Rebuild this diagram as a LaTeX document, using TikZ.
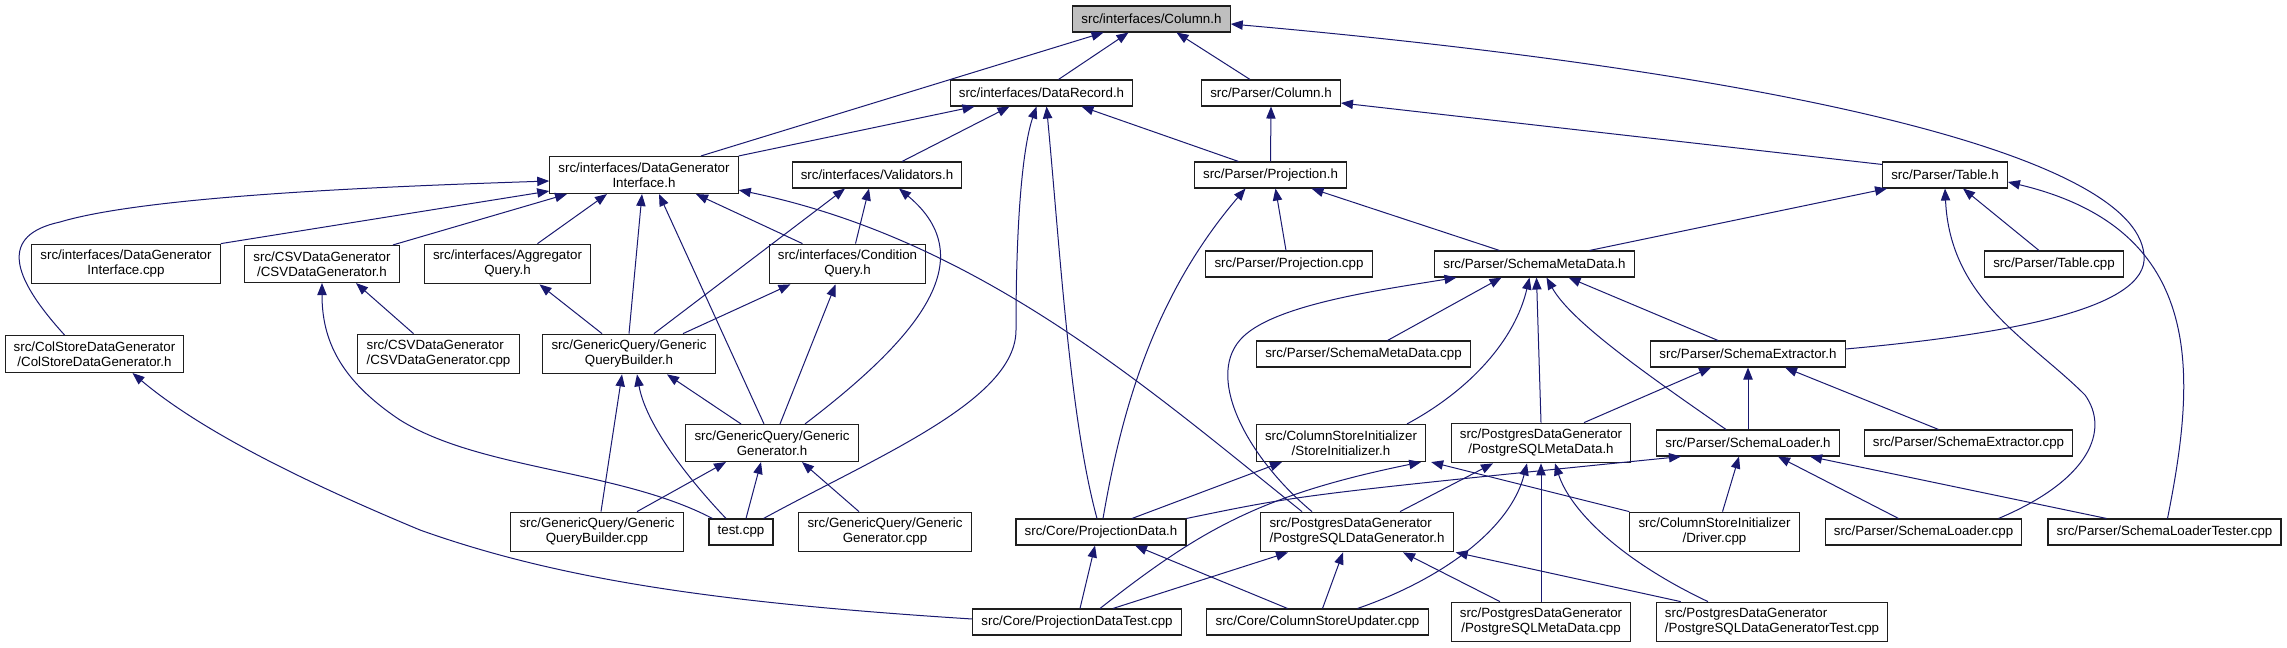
\documentclass[tikz,border=0pt]{standalone}
\usepackage{fontspec}
\setsansfont{Liberation Sans}
\usetikzlibrary{arrows.meta}

\definecolor{depGraphEdge}{RGB}{25,25,112}
\definecolor{depGraphRoot}{RGB}{191,191,191}
\definecolor{depGraphBorder}{RGB}{30,30,30}

\begin{document}
\begin{tikzpicture}[x=.75pt,y=-.75pt,
      incfile/.style={draw=depGraphBorder, fill=white, line width=.8pt,
        font=\fontsize{10}{11.25}\selectfont\sffamily, align=center,
        inner xsep=6.5pt, inner ysep=4.6pt, minimum height=19.5pt},
      rootfile/.style={incfile, fill=depGraphRoot},
      dep/.style={draw=depGraphEdge, line width=.75pt,
        -{Triangle[length=9pt,width=7pt]}},
      shx/.style={shift={(#1,0)}},
      shy/.style={shift={(0,#1)}}]
      \useasboundingbox (0,0) rectangle (2287,648);
      \fill[white] (0,0) rectangle (2287,648);

      \node[rootfile] (col) at (1151.5,19) {src/interfaces/Column.h};
      \node[incfile] (dr) at (1041.5,93) {src/interfaces/DataRecord.h};
      \node[incfile] (pcol) at (1271,93) {src/Parser/Column.h};
      \node[incfile] (dgi) at (644,175) {src/interfaces/DataGenerator\\Interface.h};
      \node[incfile] (val) at (877,175) {src/interfaces/Validators.h};
      \node[incfile] (proj) at (1270.5,175) {src/Parser/Projection.h};
      \node[incfile] (table) at (1945,175) {src/Parser/Table.h};

      \node[incfile] (dgicpp) at (126,264) {src/interfaces/DataGenerator\\Interface.cpp};
      \node[incfile] (csvh) at (322,264) {src/CSVDataGenerator\\/CSVDataGenerator.h};
      \node[incfile] (agg) at (507.5,264) {src/interfaces/Aggregator\\Query.h};
      \node[incfile] (cond) at (847.5,264) {src/interfaces/Condition\\Query.h};
      \node[incfile] (pcpp) at (1289,264) {src/Parser/Projection.cpp};
      \node[incfile] (smd) at (1534.5,264) {src/Parser/SchemaMetaData.h};
      \node[incfile] (tcpp) at (2054,264) {src/Parser/Table.cpp};

      \node[incfile] (colstore) at (94.5,354) {src/ColStoreDataGenerator\\/ColStoreDataGenerator.h};
      \node[incfile, align=left] (csvcpp) at (438.5,354) {src/CSVDataGenerator\\/CSVDataGenerator.cpp};
      \node[incfile] (gqbh) at (629,354) {src/GenericQuery/Generic\\QueryBuilder.h};
      \node[incfile] (scpp) at (1363.5,354) {src/Parser/SchemaMetaData.cpp};
      \node[incfile] (sext) at (1748,354) {src/Parser/SchemaExtractor.h};

      \node[incfile] (gg) at (772,443) {src/GenericQuery/Generic\\Generator.h};
      \node[incfile] (si) at (1341,443) {src/ColumnStoreInitializer\\/StoreInitializer.h};
      \node[incfile] (pm) at (1541,443) {src/PostgresDataGenerator\\/PostgreSQLMetaData.h};
      \node[incfile] (sl) at (1748,443) {src/Parser/SchemaLoader.h};
      \node[incfile] (secpp) at (1968.5,443) {src/Parser/SchemaExtractor.cpp};

      \node[incfile] (gqbcpp) at (597,532) {src/GenericQuery/Generic\\QueryBuilder.cpp};
      \node[incfile] (test) at (741,532) {test.cpp};
      \node[incfile] (ggcpp) at (885,532) {src/GenericQuery/Generic\\Generator.cpp};
      \node[incfile] (pd) at (1101,532) {src/Core/ProjectionData.h};
      \node[incfile, align=left] (pdg) at (1357,532) {src/PostgresDataGenerator\\/PostgreSQLDataGenerator.h};
      \node[incfile] (driver) at (1714.5,532) {src/ColumnStoreInitializer\\/Driver.cpp};
      \node[incfile] (slcpp) at (1923.5,532) {src/Parser/SchemaLoader.cpp};
      \node[incfile] (slt) at (2164.5,532) {src/Parser/SchemaLoaderTester.cpp};

      \node[incfile] (pdt) at (1077,622) {src/Core/ProjectionDataTest.cpp};
      \node[incfile] (csu) at (1317.5,622) {src/Core/ColumnStoreUpdater.cpp};
      \node[incfile] (pmcpp) at (1541,622) {src/PostgresDataGenerator\\/PostgreSQLMetaData.cpp};
      \node[incfile, align=left] (pdtest) at (1772,622) {src/PostgresDataGenerator\\/PostgreSQLDataGeneratorTest.cpp};

      \draw[dep] ([shx=57]dgi.north) -- ([shx=-48]col.south);
      \draw[dep] ([shx=17]dr.north) -- ([shx=-23]col.south);
      \draw[dep] ([shx=-21]pcol.north) -- ([shx=25]col.south);
      \draw[dep] ([shy=-5]sext.east) .. controls (2000,335) and (2150,310) .. (2144,255)
        .. controls (2135,150) and (1750,70) .. ([shy=5]col.east);
      \draw[dep] (dgi.north east) -- ([shx=-67]dr.south);
      \draw[dep] ([shx=25]val.north) -- ([shx=-32]dr.south);
      \draw[dep] ([shx=-32]proj.north) -- ([shx=40]dr.south);
      \draw[dep] (proj.north) -- (pcol.south);
      \draw[dep] ([shy=3]table.north west) -- ([shy=10]pcol.east);

      \draw[dep] (dgicpp.north east) -- ([shy=-3]dgi.south west);
      \draw[dep] ([shx=-30]colstore.north) .. controls (10,275) and (0,235) .. (60,222)
        .. controls (150,195) and (400,186) .. ([shy=6]dgi.west);
      \draw[dep] ([shx=71]csvh.north) -- ([shx=-77]dgi.south);
      \draw[dep] ([shx=30]agg.north) -- ([shx=-37]dgi.south);
      \draw[dep] ([shx=-45]cond.north) -- ([shx=52]dgi.south);
      \draw[dep] ([shx=8]cond.north) -- ([shx=-8]val.south);
      \draw[dep] ([shx=-3]pcpp.north) -- ([shx=5]proj.south);
      \draw[dep] ([shx=-35]smd.north) -- ([shx=41]proj.south);
      \draw[dep] ([shx=55]smd.north) -- ([shx=-58]table.south);
      \draw[dep] ([shx=-15]tcpp.north) -- ([shx=18]table.south);

      \draw[dep] ([shx=-25]csvcpp.north) -- ([shx=34]csvh.south);
      \draw[dep] (gqbh.north) -- ([shx=-2]dgi.south);
      \draw[dep] ([shx=-27]gqbh.north) -- ([shx=32]agg.south);
      \draw[dep] ([shx=25]gqbh.north) -- ([shx=-32]val.south);
      \draw[dep] ([shx=54]gqbh.north) -- ([shx=-57]cond.south);
      \draw[dep] ([shx=24]scpp.north) -- ([shx=-33]smd.south);
      \draw[dep] ([shx=-30]sext.north) -- ([shx=34]smd.south);

      \draw[dep] ([shx=-8]gg.north) -- ([shx=15]dgi.south);
      \draw[dep] ([shx=33]gg.north) .. controls (915,340) and (985,260) .. ([shx=22]val.south);
      \draw[dep] ([shx=8]gg.north) -- ([shx=-12]cond.south);
      \draw[dep] ([shx=-31]gg.north) -- ([shx=38]gqbh.south);
      \draw[dep] ([shx=66]si.north) .. controls (1470,390) and (1515,340) .. ([shx=-5]smd.south);
      \draw[dep] (pm.north) -- ([shx=2]smd.south);
      \draw[dep] ([shx=43]pm.north) -- ([shx=-37]sext.south);
      \draw[dep] ([shx=-22]sl.north) .. controls (1640,370) and (1570,320) .. ([shx=12]smd.south);
      \draw[dep] (sl.north) -- (sext.south);
      \draw[dep] ([shx=-30]secpp.north) -- ([shx=37]sext.south);

      \draw[dep] ([shx=4]gqbcpp.north) -- ([shx=-7]gqbh.south);
      \draw[dep] ([shx=40]gqbcpp.north) -- ([shx=-46]gg.south);
      \draw[dep] ([shx=-10]test.north east) .. controls (880,455) and (1016,400) .. (1016,330)
        .. controls (1016,200) and (1025,140) .. ([shx=-5]dr.south);
      \draw[dep] ([shx=4]test.north west) .. controls (620,470) and (480,470) .. (400,420)
        .. controls (340,380) and (322,340) .. (csvh.south);
      \draw[dep] ([shx=-15]test.north) .. controls (680,470) and (645,420) .. ([shx=8]gqbh.south);
      \draw[dep] ([shx=5]test.north) -- ([shx=-11]gg.south);
      \draw[dep] ([shx=-26]ggcpp.north) -- ([shx=30]gg.south);
      \draw[dep] ([shx=-4]pd.north) .. controls (1070,420) and (1060,250) .. ([shx=5]dr.south);
      \draw[dep] ([shx=2]pd.north) .. controls (1120,420) and (1150,300) .. ([shx=-25]proj.south);
      \draw[dep] ([shx=31]pd.north) -- ([shx=-59]si.south);
      \draw[dep] (pd.north east) .. controls (1300,495) .. ([shx=-67]sl.south);
      \draw[dep] ([shx=-55]pdg.north) .. controls (1150,390) and (980,240) .. ([shy=-4]dgi.south east);
      \draw[dep] ([shx=-45]pdg.north) .. controls (1250,460) and (1205,380) .. (1240,340)
        .. controls (1270,305) and (1380,290) .. ([shx=-78]smd.south);
      \draw[dep] ([shx=43]pdg.north) -- ([shx=-48]pm.south);
      \draw[dep] (driver.north west) -- ([shx=5]si.south east);
      \draw[dep] ([shx=8]driver.north) -- ([shx=-9]sl.south);
      \draw[dep] ([shx=-25]slcpp.north) -- ([shx=30]sl.south);
      \draw[dep] ([shx=75]slcpp.north) .. controls (2090,480) and (2110,430) .. (2085,395)
        .. controls (2030,340) and (1950,300) .. (table.south);
      \draw[dep] ([shx=-58]slt.north) -- ([shx=62]sl.south);
      \draw[dep] ([shx=3]slt.north) .. controls (2195,380) and (2210,230) .. ([shy=7]table.east);

      \draw[dep] ([shy=-3]pdt.west) .. controls (720,603) and (560,580) .. (420,530)
        .. controls (300,480) and (200,430) .. ([shx=38]colstore.south);
      \draw[dep] ([shx=3]pdt.north) -- ([shx=-6]pd.south);
      \draw[dep] ([shx=36]pdt.north) -- ([shx=-69]pdg.south);
      \draw[dep] ([shx=23]pdt.north) .. controls (1200,530) and (1260,495) .. ([shx=-5]si.south east);
      \draw[dep] ([shx=-30]csu.north) -- ([shx=34]pd.south);
      \draw[dep] ([shx=5]csu.north) -- ([shx=-14]pdg.south);
      \draw[dep] ([shx=40]csu.north) .. controls (1440,580) and (1510,530) .. ([shx=-14]pm.south);
      \draw[dep] ([shx=-41]pmcpp.north) -- ([shx=46]pdg.south);
      \draw[dep] (pmcpp.north) -- (pm.south);
      \draw[dep] ([shx=25]pdtest.north west) -- ([shx=2]pdg.south east);
      \draw[dep] ([shx=-64]pdtest.north) .. controls (1620,560) and (1570,510) .. ([shx=14]pm.south);
    \end{tikzpicture}
\end{document}
